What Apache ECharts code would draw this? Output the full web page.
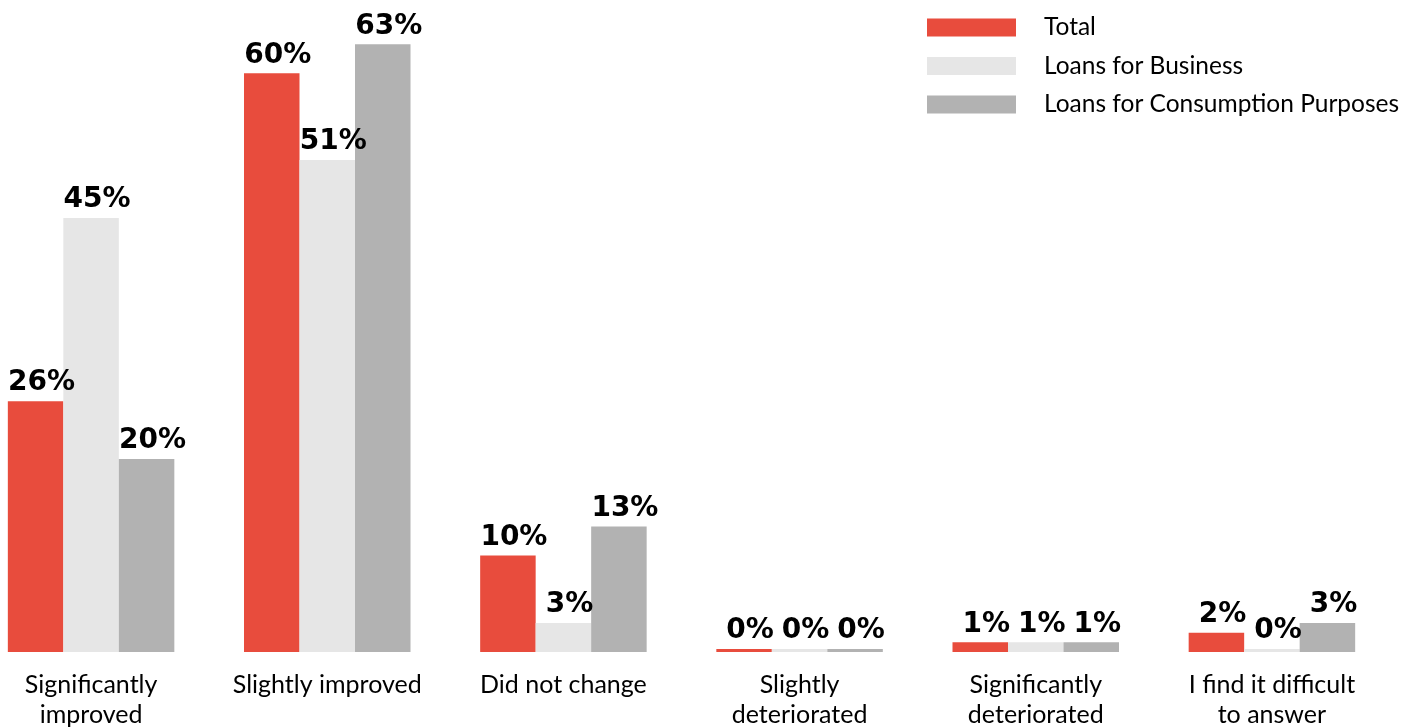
<!DOCTYPE html>
<html>
<head>
<meta charset="utf-8">
<script src="https://cdn.jsdelivr.net/npm/echarts@6/dist/echarts.min.js"></script>
<style>html,body{margin:0;padding:0;background:#fff;overflow:hidden;}#c{position:absolute;left:-27px;top:0;width:1443px;height:727px;}</style>
</head>
<body>
<div id="c"></div>
<script>
const categories = ["Significantly\nimproved", "Slightly improved", "Did not change", "Slightly\ndeteriorated", "Significantly\ndeteriorated", "I find it difficult\nto answer"];
const seriesNames = ["Total", "Loans for Business", "Loans for Consumption Purposes"];
const total = [26, 60, 10, 0, 1, 2];
const business = [45, 51, 3, 0, 1, 0];
const consumption = [20, 63, 13, 0, 1, 3];
const colors = ["#E84C3D", "#E6E6E6", "#B2B2B2"];

const FONT = "Lato";
const LABEL_FONT = "DejaVu Sans";
const chart = echarts.init(document.getElementById('c'));
function mk(name, data, color) {
  return {
    name: name, type: 'bar', data: data, barWidth: 55.5, barGap: '0%', barMinHeight: 3,
    itemStyle: { color: color },
    label: { show: true, position: 'top', distance: 4, offset: [6, 0], formatter: '{c}%',
      fontFamily: LABEL_FONT, fontWeight: 'bold', fontSize: 28, color: '#000' }
  };
}
chart.setOption({
  animation: false,
  color: colors,
  legend: {
    orient: 'vertical', left: 954, top: 15, padding: 0, itemWidth: 89, itemHeight: 18, itemGap: 13.5,
    icon: 'rect',
    textStyle: { fontFamily: FONT, fontSize: 24.5, color: '#000', padding: [0, 0, 0, 23] },
    data: seriesNames
  },
  grid: { left: 0, right: 26, top: 25, bottom: 75, containLabel: false, outerBoundsMode: 'none' },
  xAxis: {
    type: 'category', data: categories,
    axisLine: { show: false }, axisTick: { show: false },
    axisLabel: { fontFamily: FONT, fontSize: 25, color: '#000', margin: 18, lineHeight: 30, interval: 0 }
  },
  yAxis: { type: 'value', min: 0, max: 65, show: false, splitLine: { show: false } },
  series: [mk(seriesNames[0], total, colors[0]), mk(seriesNames[1], business, colors[1]), mk(seriesNames[2], consumption, colors[2])]
});
</script>
</body>
</html>
